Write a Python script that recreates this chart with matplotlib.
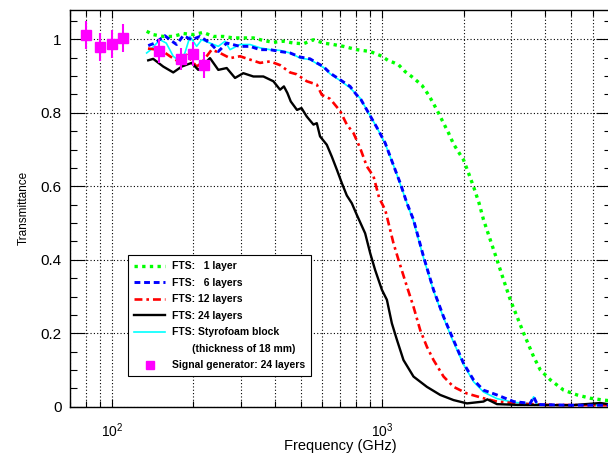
import numpy as np
import matplotlib
matplotlib.use("Agg")
import matplotlib.pyplot as plt
from matplotlib.ticker import LogLocator, LogFormatterMathtext, MultipleLocator, FormatStrFormatter, NullFormatter
from matplotlib.lines import Line2D

plt.rcParams['font.family'] = ['Liberation Sans', 'DejaVu Sans']
plt.rcParams['mathtext.fontset'] = 'custom'
plt.rcParams['mathtext.rm'] = 'Liberation Sans'
plt.rcParams['mathtext.it'] = 'Liberation Sans:italic'

# -------------------------------
# FTS: 1 layer
# -------------------------------
f_1 = [134.5, 142.2, 154.9, 168.7, 183.6, 200, 217.8, 237.3, 258.4, 281.4, 306.4, 333.8,
       363.5, 395.8, 430.9, 469.4, 511, 556.6, 606, 660, 719, 806, 902.7, 969, 997.5,
       1055, 1101, 1149, 1217, 1306, 1403, 1484, 1549, 1617, 1687, 1761, 1837, 1945,
       2000, 2087, 2178, 2283, 2371, 2512, 2659, 2814, 2979, 3155, 3338, 3634, 3847,
       4190, 4694, 5260, 5893, 6600, 7000]
t_1 = [1.022, 1.013, 1.008, 1.008, 1.016, 1.013, 1.019, 1.008, 1.008, 1.004, 1.004, 1.004,
       0.997, 0.992, 0.995, 0.990, 0.988, 0.999, 0.990, 0.986, 0.981, 0.972, 0.967, 0.958, 0.954,
       0.942, 0.937, 0.931, 0.912, 0.895, 0.875, 0.849, 0.825, 0.799, 0.772, 0.745, 0.715, 0.686,
       0.672, 0.636, 0.599, 0.554, 0.509, 0.454, 0.400, 0.345, 0.291, 0.245, 0.200, 0.136, 0.100,
       0.073, 0.045, 0.032, 0.023, 0.018, 0.016]

# -------------------------------
# FTS: 6 layers
# -------------------------------
f_6 = [136.3, 144.3, 157.1, 164, 173.6, 183.6, 197.3, 211.8, 230.7, 247.6, 266, 297.9,
       324.4, 353.3, 384.7, 419, 456.3, 497, 541, 573, 606, 642, 699, 761, 806, 829, 890,
       956, 1026, 1071, 1117, 1166, 1235, 1306, 1422, 1549, 1687, 1813, 2000, 2178, 2371,
       2659, 3063, 3532, 3634, 3750, 5000, 7000]
t_6 = [0.983, 0.990, 1.010, 0.999, 0.986, 1.010, 0.999, 1.008, 0.990, 0.967, 0.990, 0.981,
       0.981, 0.972, 0.972, 0.967, 0.963, 0.952, 0.947, 0.936, 0.926, 0.908, 0.890, 0.872, 0.848,
       0.840, 0.800, 0.760, 0.718, 0.681, 0.645, 0.609, 0.554, 0.509, 0.409, 0.318, 0.245, 0.191,
       0.118, 0.073, 0.045, 0.032, 0.014, 0.009, 0.027, 0.006, 0.004, 0.004]

# -------------------------------
# FTS: 12 layers
# -------------------------------
f_12 = [136, 148.4, 154.9, 164, 176, 189.1, 205.9, 214.8, 234, 251.2, 273.5, 297.9, 324.4,
        353.3, 384.7, 419, 456.3, 483, 526, 573, 598, 642, 699, 740, 783, 829, 878, 929, 975,
        1026, 1041, 1101, 1149, 1235, 1306, 1382, 1464, 1549, 1687, 1837, 2059, 2371, 2659,
        3155, 4000, 7000]
t_12 = [0.975, 0.972, 0.967, 0.954, 0.940, 0.958, 0.926, 0.936, 0.972, 0.963, 0.949, 0.954, 0.945,
        0.936, 0.940, 0.930, 0.910, 0.905, 0.886, 0.877, 0.849, 0.838, 0.805, 0.768, 0.745, 0.704,
        0.654, 0.627, 0.568, 0.536, 0.518, 0.445, 0.400, 0.327, 0.272, 0.209, 0.163, 0.127, 0.082,
        0.054, 0.036, 0.023, 0.014, 0.009, 0.005, 0.004]

# -------------------------------
# FTS: 24 layers
# -------------------------------
f_24 = [136.3, 142.2, 154.9, 168.7, 181.3, 197.3, 208.7, 230.7, 247.6, 266, 285.5, 306.4,
        333.8, 363.5, 395.8, 419, 433, 446, 459, 484, 503, 526, 557, 573, 589, 624, 651, 680,
        709, 740, 772, 806, 865, 903, 942, 998, 1041, 1086, 1134, 1199, 1306, 1464, 1640,
        1837, 2059, 2371, 2449, 2659, 3155, 5000, 6412, 7000]
t_24 = [0.943, 0.947, 0.926, 0.910, 0.926, 0.936, 0.917, 0.949, 0.917, 0.922, 0.895, 0.908,
        0.899, 0.899, 0.886, 0.863, 0.872, 0.854, 0.831, 0.808, 0.813, 0.790, 0.768, 0.772, 0.736,
        0.713, 0.681, 0.645, 0.609, 0.575, 0.554, 0.522, 0.472, 0.418, 0.372, 0.318, 0.291, 0.227,
        0.182, 0.127, 0.082, 0.054, 0.032, 0.018, 0.009, 0.014, 0.020, 0.007, 0.005, 0.004,
        0.010, 0.006]

# -------------------------------
# FTS: Styrofoam block
# -------------------------------
f_sty = [134.5, 138.3, 150.6, 158.9, 168.7, 178.6, 186.3, 194.5, 205.9, 214.8, 230.7, 247.6,
         262.2, 273.5, 297.9, 324.4, 353.3, 384.7, 419, 456.3, 497, 541, 573, 606, 642, 699,
         761, 829, 890, 956, 1026, 1117, 1235, 1306, 1422, 1549, 1687, 1813, 2000, 2178, 2371,
         2659, 3063, 3532, 3634, 3750, 7000]
t_sty = [0.963, 0.970, 0.999, 0.990, 0.954, 0.940, 0.963, 1.008, 0.981, 0.999, 0.990, 0.981,
         0.995, 0.972, 0.986, 0.986, 0.977, 0.972, 0.970, 0.963, 0.949, 0.945, 0.934, 0.924, 0.906,
         0.888, 0.868, 0.840, 0.800, 0.760, 0.716, 0.645, 0.554, 0.505, 0.405, 0.315, 0.242, 0.185,
         0.115, 0.068, 0.040, 0.022, 0.012, 0.008, 0.027, 0.005, 0.004]

# -------------------------------
# Signal generator: 24 layers
# -------------------------------
f_sg = [80, 90, 100, 110, 150, 180, 200, 220]
t_sg = [1.012, 0.979, 0.987, 1.003, 0.968, 0.947, 0.960, 0.930]
e_sg = [0.037, 0.039, 0.038, 0.038, 0.032, 0.030, 0.033, 0.036]

fig = plt.figure(figsize=(6.08, 4.55), dpi=100)
ax = fig.add_axes([70 / 608, 1 - 406.7 / 455, 540.6 / 608, 396.7 / 455])

ax.plot(f_sty, t_sty, color='#00ffff', lw=1.2, zorder=3)
l1, = ax.plot(f_1, t_1, color='#00ff00', lw=2.4, dashes=(1, 1.3), zorder=4)
l12, = ax.plot(f_12, t_12, color='#ff0000', lw=1.9, dashes=(3, 1.5, 1, 1.5), zorder=4)
l24, = ax.plot(f_24, t_24, color='black', lw=1.7, zorder=4)
l6, = ax.plot(f_6, t_6, color='#0000ff', lw=2.1, dashes=(2, 1.3), zorder=5)
ax.errorbar(f_sg, t_sg, yerr=e_sg, fmt='s', color='#ff00ff', ms=6.5, elinewidth=1.5,
            capsize=0, zorder=6)

ax.set_xscale('log')
ax.set_xlim(70, 7000)
ax.set_ylim(0, 1.08)

ax.xaxis.set_major_locator(LogLocator(base=10))
ax.xaxis.set_major_formatter(LogFormatterMathtext())
ax.xaxis.set_minor_locator(LogLocator(base=10, subs=np.arange(2, 10)))
ax.xaxis.set_minor_formatter(NullFormatter())
ax.yaxis.set_major_locator(MultipleLocator(0.2))
ax.yaxis.set_minor_locator(MultipleLocator(0.05))
ax.yaxis.set_major_formatter(FormatStrFormatter('%g'))

ax.tick_params(which='both', direction='in', top=True, right=True, width=0.8)
ax.tick_params(axis='y', which='major', length=11, labelsize=11, pad=6)
ax.tick_params(axis='y', which='minor', length=5)
ax.tick_params(axis='x', which='major', length=6, labelsize=10, pad=10.5)
ax.tick_params(axis='x', which='minor', length=4.5)

ax.grid(True, axis='y', which='major', color='black', lw=0.8, ls=(0, (1, 2)))
ax.grid(True, axis='x', which='both', color='black', lw=0.8, ls=(0, (1, 2)))
for s in ax.spines.values():
    s.set_linewidth(1.0)

ax.set_xlabel("Frequency (GHz)", fontsize=10.5, labelpad=-0.5)
ax.set_ylabel("Transmittance", fontsize=8.5, labelpad=8)

sty_h = Line2D([], [], color='#00ffff', lw=1.2)
blank_h = Line2D([], [], color='none')
sg_h = Line2D([], [], color='#ff00ff', marker='s', ls='none', ms=6)
handles = [l1, l6, l12, l24, sty_h, blank_h, sg_h]
labels = ["FTS:   1 layer", "FTS:   6 layers", "FTS: 12 layers", "FTS: 24 layers",
          "FTS: Styrofoam block", "       (thickness of 18 mm)", "Signal generator: 24 layers"]
leg = ax.legend(handles, labels, loc='upper left', bbox_to_anchor=(0.107, 0.382),
                borderaxespad=0, prop={'size': 7.5, 'weight': 'bold'}, handlelength=3.0,
                handletextpad=0.6, labelspacing=0.62, borderpad=0.6, fancybox=False,
                framealpha=1, edgecolor='black', numpoints=1)
leg.get_frame().set_linewidth(0.8)
leg.set_zorder(10)

fig.savefig("out.png", dpi=100)
